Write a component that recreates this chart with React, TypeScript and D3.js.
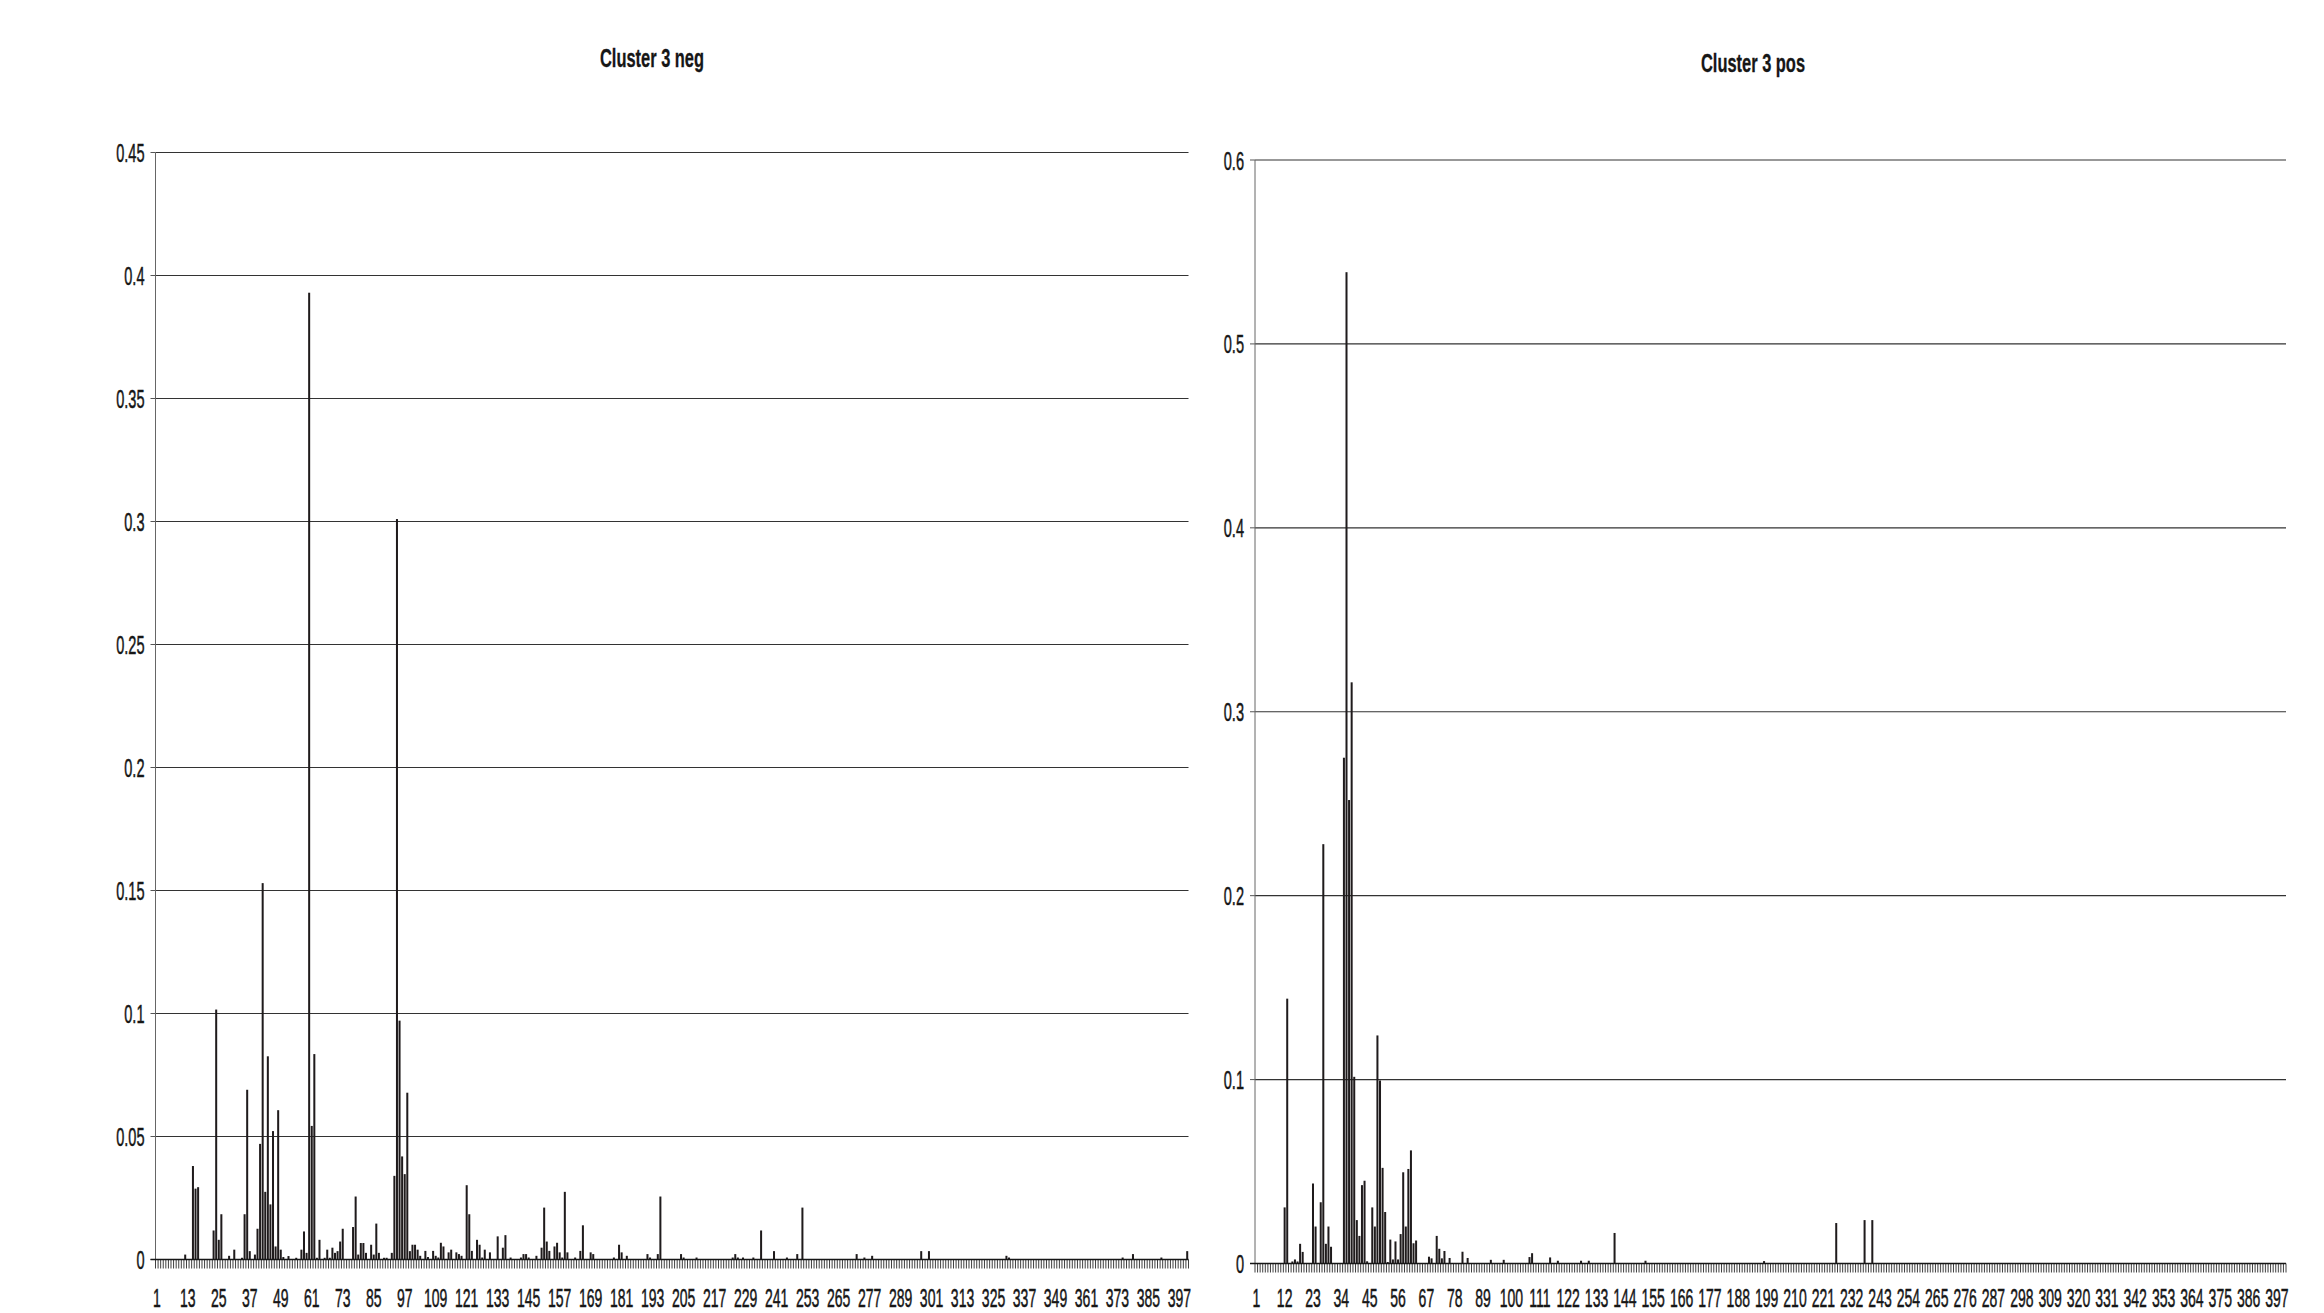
import React from "react";
import * as d3 from "d3";

// ---------- data ----------
const N_CATEGORIES = 400;
const categories: number[] = d3.range(1, N_CATEGORIES + 1);

// Cluster 3 neg: non-zero categories and their values
const negCats: number[] = [
  12, 15, 16, 17, 23, 24, 25, 26, 29, 31, 34, 35, 36, 37, 39, 40, 41, 42, 43, 44,
  45, 46, 47, 48, 49, 50, 52, 55, 57, 58, 59, 60, 61, 62, 63, 64, 66, 67, 68, 69,
  70, 71, 72, 73, 77, 78, 79, 80, 81, 82, 84, 85, 86, 87, 89, 90, 92, 93, 94, 95,
  96, 97, 98, 99, 100, 101, 102, 103, 105, 106, 108, 109, 110, 111, 112, 114, 115, 117, 118, 119,
  121, 122, 123, 125, 126, 127, 128, 130, 133, 135, 136, 138, 142, 143, 144, 145, 148, 150, 151, 152,
  153, 155, 156, 157, 158, 159, 160, 163, 165, 166, 169, 170, 178, 180, 181, 183, 191, 192, 195, 196,
  204, 205, 210, 224, 225, 226, 228, 232, 235, 240, 245, 249, 251, 272, 275, 278, 297, 300, 330, 331,
  375, 379, 390, 400,
];
const negValues: number[] = [
  0.002, 0.038, 0.0288, 0.0294, 0.0118, 0.1016, 0.008, 0.0184, 0.0015, 0.004, 0.0007, 0.0184, 0.069, 0.0034, 0.002, 0.0125, 0.047, 0.153, 0.0275, 0.0826,
  0.0224, 0.0522, 0.0053, 0.0607, 0.004, 0.001, 0.0014, 0.0007, 0.004, 0.0114, 0.0027, 0.393, 0.0543, 0.0835, 0.0007, 0.008, 0.0007, 0.004, 0.0007, 0.0048,
  0.0027, 0.0034, 0.0073, 0.0125, 0.0132, 0.0256, 0.002, 0.0067, 0.0067, 0.0027, 0.006, 0.002, 0.0146, 0.0027, 0.0007, 0.0007, 0.0027, 0.034, 0.301, 0.0971,
  0.0419, 0.0347, 0.0678, 0.0034, 0.006, 0.006, 0.004, 0.0015, 0.0035, 0.001, 0.0035, 0.0015, 0.0008, 0.0068, 0.0053, 0.0029, 0.004, 0.0029, 0.0022, 0.0015,
  0.0302, 0.0184, 0.0035, 0.008, 0.006, 0.0008, 0.004, 0.0029, 0.0094, 0.0048, 0.0099, 0.0008, 0.0008, 0.0022, 0.0022, 0.0008, 0.0015, 0.0048, 0.0211, 0.0073,
  0.0035, 0.0053, 0.0068, 0.0029, 0.0008, 0.0275, 0.0029, 0.0008, 0.0035, 0.0139, 0.0029, 0.0022, 0.0008, 0.006, 0.0029, 0.0015, 0.0022, 0.0008, 0.0022, 0.0256,
  0.0022, 0.0008, 0.0008, 0.0008, 0.0022, 0.0008, 0.0008, 0.0008, 0.0118, 0.0034, 0.0008, 0.0022, 0.0211, 0.0022, 0.0008, 0.0015, 0.0034, 0.0034, 0.0015, 0.0008,
  0.0008, 0.0022, 0.0008, 0.0034,
];

// Cluster 3 pos: non-zero categories and their values
const posCats: number[] = [
  12, 13, 15, 16, 17, 18, 19, 23, 24, 26, 27, 28, 29, 30, 35, 36, 37, 38, 39, 40,
  41, 42, 43, 44, 46, 47, 48, 49, 50, 51, 52, 53, 54, 55, 56, 57, 58, 59, 60, 61,
  62, 63, 68, 69, 71, 72, 73, 74, 76, 81, 83, 92, 97, 107, 108, 115, 118, 127, 130, 140,
  152, 198, 226, 237, 240,
];
const posValues: number[] = [
  0.0305, 0.144, 0.0011, 0.0022, 0.0011, 0.0107, 0.0063, 0.0435, 0.0201, 0.0333, 0.228, 0.0107, 0.0201, 0.0091, 0.275, 0.539, 0.252, 0.316, 0.1015, 0.0236,
  0.015, 0.0426, 0.045, 0.0012, 0.0305, 0.0201, 0.124, 0.0995, 0.052, 0.028, 0.0008, 0.013, 0.0022, 0.012, 0.0022, 0.016, 0.0496, 0.0201, 0.0514, 0.0615,
  0.011, 0.0125, 0.0037, 0.0028, 0.015, 0.008, 0.0028, 0.0068, 0.003, 0.0064, 0.003, 0.002, 0.002, 0.0035, 0.0056, 0.0033, 0.0015, 0.0015, 0.0015, 0.0166,
  0.0015, 0.0013, 0.022, 0.0236, 0.0236,
];

const negTicks: number[] = [0, 0.05, 0.1, 0.15, 0.2, 0.25, 0.3, 0.35, 0.4, 0.45];
const negTickLabels: string[] = ["0", "0.05", "0.1", "0.15", "0.2", "0.25", "0.3", "0.35", "0.4", "0.45"];
const posTicks: number[] = [0, 0.1, 0.2, 0.3, 0.4, 0.5, 0.6];
const posTickLabels: string[] = ["0", "0.1", "0.2", "0.3", "0.4", "0.5", "0.6"];
const negLabelEvery = 12;
const posLabelEvery = 11;

function dense(cats: number[], vals: number[]): number[] {
  const arr = new Array(N_CATEGORIES).fill(0);
  cats.forEach((c, i) => {
    arr[c - 1] = vals[i];
  });
  return arr;
}

const FONT = "'Liberation Sans', Arial, Helvetica, sans-serif";
const BAR = "#1f1b1c";
const INK = "#161616";

type PanelProps = {
  title: string;
  titleX: number;
  titleY: number;
  x0: number;
  x1: number;
  yZero: number;
  yTop: number;
  yMax: number;
  ticks: number[];
  tickLabels: string[];
  values: number[];
  labelEvery: number;
};

function Panel(p: PanelProps) {
  const x = d3
    .scaleBand<number>()
    .domain(categories)
    .range([p.x0, p.x1])
    .padding(0);
  const step = x.step();
  const y = d3.scaleLinear().domain([0, p.yMax]).range([p.yZero, p.yTop]);
  const barW = step * 0.78;
  const barOff = step * 0.11;
  const labelCats = categories.filter((c) => (c - 1) % p.labelEvery === 0);
  const bounds = d3.range(0, N_CATEGORIES + 1).map((i) => p.x0 + i * step);
  const labelSize = 26;
  const sx = 0.56;
  return (
    <g>
      <text
        transform={`translate(${p.titleX},${p.titleY}) scale(0.645,1)`}
        textAnchor="middle"
        fontFamily={FONT}
        fontWeight="bold"
        fontSize={25.5}
        fill={INK}
        stroke={INK}
        strokeWidth={0.3}
      >
        {p.title}
      </text>
      {/* gridlines */}
      {p.ticks.slice(1).map((t) => (
        <line
          key={"g" + t}
          x1={p.x0}
          x2={p.x1}
          y1={y(t)}
          y2={y(t)}
          stroke="#333"
          strokeWidth={1.1}
        />
      ))}
      {/* y axis ticks and labels */}
      {p.ticks.map((t, i) => (
        <g key={"t" + t}>
          <line x1={p.x0 - 5} x2={p.x0} y1={y(t)} y2={y(t)} stroke="#555" strokeWidth={1} />
          <text
            transform={`translate(${p.x0 - 11},${y(t) + 9.5}) scale(${sx},1)`}
            textAnchor="end"
            fontFamily={FONT}
            fontSize={labelSize}
            fill={INK}
            stroke={INK}
            strokeWidth={0.5}
          >
            {p.tickLabels[i]}
          </text>
        </g>
      ))}
      {/* bars */}
      {p.values.map((v, i) =>
        v > 0 ? (
          <rect
            key={"b" + i}
            x={(x(categories[i]) as number) + barOff}
            y={y(v)}
            width={barW}
            height={p.yZero - y(v)}
            fill={BAR}
          />
        ) : null
      )}
      {/* y axis line */}
      <line x1={p.x0} x2={p.x0} y1={p.yTop} y2={p.yZero} stroke="#666" strokeWidth={1} />
      {/* category comb ticks */}
      {bounds.map((bx, i) => (
        <line key={"c" + i} x1={bx} x2={bx} y1={p.yZero} y2={p.yZero + 9} stroke="#2a2a2a" strokeWidth={0.9} />
      ))}
      {/* baseline */}
      <line x1={p.x0 - 5} x2={p.x1} y1={p.yZero} y2={p.yZero} stroke={INK} strokeWidth={1.4} />
      {/* category labels */}
      {labelCats.map((c) => (
        <text
          key={"l" + c}
          transform={`translate(${(x(c) as number) + step / 2},1307) scale(${sx},1)`}
          textAnchor="middle"
          fontFamily={FONT}
          fontSize={25}
          fill={INK}
          stroke={INK}
          strokeWidth={0.5}
        >
          {String(c)}
        </text>
      ))}
    </g>
  );
}

export default function App() {
  const negData = dense(negCats, negValues);
  const posData = dense(posCats, posValues);
  return (
    <svg
      width={2324}
      height={1313}
      style={{ position: "absolute", left: 0, top: 0, background: "#fff" }}
    >
      <rect x={0} y={0} width={2324} height={1313} fill="#fff" />
      <Panel
        title="Cluster 3 neg"
        titleX={652}
        titleY={67}
        x0={155.5}
        x1={1188.5}
        yZero={1259.5}
        yTop={152.5}
        yMax={0.45}
        ticks={negTicks}
        tickLabels={negTickLabels}
        values={negData}
        labelEvery={negLabelEvery}
      />
      <Panel
        title="Cluster 3 pos"
        titleX={1753}
        titleY={72}
        x0={1255}
        x1={2286}
        yZero={1263.5}
        yTop={160}
        yMax={0.6}
        ticks={posTicks}
        tickLabels={posTickLabels}
        values={posData}
        labelEvery={posLabelEvery}
      />
    </svg>
  );
}
